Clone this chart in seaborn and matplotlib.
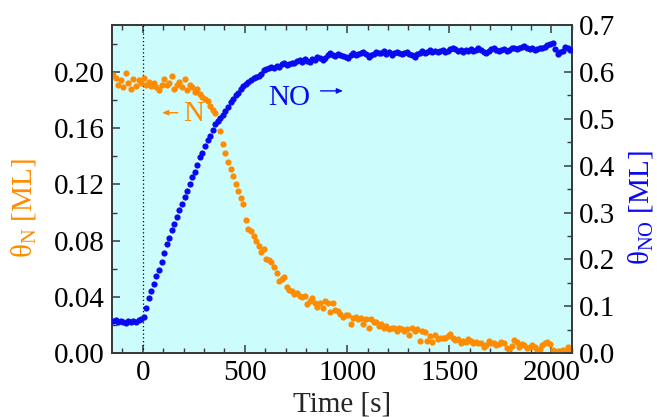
import numpy as np
import pandas as pd
import matplotlib
matplotlib.use("Agg")
import matplotlib.pyplot as plt
from matplotlib.ticker import MultipleLocator, FormatStrFormatter
import seaborn as sns

# ---------------- data ----------------
time_s = [
    -145, -132.5, -120, -107.5, -95, -82.5, -70, -57.5, -45, -32.5,
    -20, -7.5, 5, 17.5, 30, 42.5, 55, 67.5, 80, 92.5,
    105, 117.5, 130, 142.5, 155, 167.5, 180, 192.5, 205, 217.5,
    230, 242.5, 255, 267.5, 280, 292.5, 305, 317.5, 330, 342.5,
    355, 367.5, 380, 392.5, 405, 417.5, 430, 442.5, 455, 467.5,
    480, 492.5, 505, 517.5, 530, 542.5, 555, 567.5, 580, 592.5,
    605, 617.5, 630, 642.5, 655, 667.5, 680, 692.5, 705, 717.5,
    730, 742.5, 755, 767.5, 780, 792.5, 805, 817.5, 830, 842.5,
    855, 867.5, 880, 892.5, 905, 917.5, 930, 942.5, 955, 967.5,
    980, 992.5, 1005, 1017.5, 1030, 1042.5, 1055, 1067.5, 1080, 1092.5,
    1105, 1117.5, 1130, 1142.5, 1155, 1167.5, 1180, 1192.5, 1205, 1217.5,
    1230, 1242.5, 1255, 1267.5, 1280, 1292.5, 1305, 1317.5, 1330, 1342.5,
    1355, 1367.5, 1380, 1392.5, 1405, 1417.5, 1430, 1442.5, 1455, 1467.5,
    1480, 1492.5, 1505, 1517.5, 1530, 1542.5, 1555, 1567.5, 1580, 1592.5,
    1605, 1617.5, 1630, 1642.5, 1655, 1667.5, 1680, 1692.5, 1705, 1717.5,
    1730, 1742.5, 1755, 1767.5, 1780, 1792.5, 1805, 1817.5, 1830, 1842.5,
    1855, 1867.5, 1880, 1892.5, 1905, 1917.5, 1930, 1942.5, 1955, 1967.5,
    1980, 1992.5, 2005, 2017.5, 2030, 2042.5, 2055, 2067.5, 2080, 2092.5,
]

theta_N = [
    0.198, 0.196, 0.191, 0.194, 0.189, 0.199, 0.192, 0.188, 0.195, 0.190,
    0.194, 0.192, 0.196, 0.191, 0.193, 0.190, 0.192, 0.189, 0.187, 0.191,
    0.195, 0.191, 0.192, 0.197, 0.188, 0.191, 0.193, 0.189, 0.195, 0.187,
    0.191, 0.189, 0.186, 0.188, 0.184, 0.182, 0.181, 0.179, 0.176, 0.173,
    0.171, 0.165, 0.158, 0.149, 0.142, 0.136, 0.131, 0.126, 0.120, 0.115,
    0.110, 0.106, 0.095, 0.088, 0.087, 0.083, 0.080, 0.076, 0.072, 0.074,
    0.067, 0.066, 0.065, 0.061, 0.057, 0.051, 0.053, 0.054, 0.047, 0.045,
    0.044, 0.042, 0.043, 0.041, 0.040, 0.041, 0.035, 0.037, 0.039, 0.036,
    0.033, 0.036, 0.032, 0.037, 0.036, 0.029, 0.036, 0.031, 0.030, 0.028,
    0.026, 0.027, 0.027, 0.021, 0.025, 0.026, 0.024, 0.025, 0.021, 0.024,
    0.018, 0.024, 0.022, 0.022, 0.019, 0.021, 0.018, 0.019, 0.017, 0.018,
    0.018, 0.016, 0.018, 0.017, 0.016, 0.017, 0.013, 0.018, 0.016, 0.017,
    0.009, 0.016, 0.015, 0.009, 0.012, 0.008, 0.013, 0.010, 0.011, 0.011,
    0.011, 0.012, 0.014, 0.011, 0.0095, 0.010, 0.0075, 0.009, 0.008, 0.010,
    0.009, 0.0075, 0.008, 0.007, 0.0075, 0.0045, 0.006, 0.009, 0.0075, 0.0073,
    0.006, 0.0065, 0.008, 0.007, 0.004, 0.003, 0.005, 0.0095, 0.008, 0.0045,
    0.0065, 0.006, 0.004, 0.0045, 0.006, 0.0045, 0.0023, 0.003, 0.006, 0.0075,
    0.008, 0.0065, 0.002, 0.001, 0.0015, 0.0015, 0.002, 0.0017, 0.0045, 0.001,
]

theta_NO = [
    0.068, 0.070, 0.066, 0.069, 0.067, 0.065, 0.068, 0.066, 0.069, 0.067,
    0.070, 0.072, 0.078, 0.097, 0.117, 0.132, 0.148, 0.164, 0.178, 0.195,
    0.213, 0.232, 0.246, 0.262, 0.276, 0.290, 0.306, 0.318, 0.334, 0.347,
    0.361, 0.376, 0.386, 0.401, 0.419, 0.428, 0.443, 0.455, 0.463, 0.476,
    0.488, 0.496, 0.502, 0.509, 0.517, 0.526, 0.535, 0.542, 0.550, 0.556,
    0.563, 0.569, 0.575, 0.579, 0.583, 0.586, 0.590, 0.591, 0.596, 0.603,
    0.606, 0.608, 0.610, 0.609, 0.612, 0.611, 0.616, 0.618, 0.614, 0.616,
    0.620, 0.618, 0.623, 0.625, 0.621, 0.627, 0.624, 0.622, 0.628, 0.626,
    0.631, 0.629, 0.625, 0.630, 0.635, 0.641, 0.637, 0.634, 0.638, 0.636,
    0.633, 0.631, 0.629, 0.636, 0.640, 0.637, 0.639, 0.641, 0.643, 0.638,
    0.632, 0.636, 0.639, 0.643, 0.640, 0.641, 0.644, 0.639, 0.642, 0.637,
    0.640, 0.643, 0.641, 0.638, 0.640, 0.642, 0.639, 0.636, 0.632, 0.638,
    0.641, 0.644, 0.640, 0.643, 0.646, 0.643, 0.645, 0.642, 0.644, 0.647,
    0.642, 0.645, 0.649, 0.652, 0.648, 0.644, 0.647, 0.643, 0.646, 0.645,
    0.649, 0.644, 0.647, 0.650, 0.646, 0.643, 0.640, 0.644, 0.648, 0.650,
    0.647, 0.644, 0.646, 0.649, 0.645, 0.647, 0.650, 0.652, 0.648, 0.651,
    0.653, 0.655, 0.650, 0.648, 0.651, 0.646, 0.649, 0.652, 0.650, 0.654,
    0.657, 0.659, 0.661, 0.648, 0.638, 0.642, 0.645, 0.653, 0.650, 0.647,
]

x_ticks = [0, 500, 1000, 1500, 2000]
left_ticks = [0.00, 0.04, 0.08, 0.12, 0.16, 0.20]
right_ticks = [0.0, 0.1, 0.2, 0.3, 0.4, 0.5, 0.6, 0.7]

df = pd.DataFrame({"time": time_s, "N": theta_N, "NO": theta_NO})

# ---------------- style ----------------
sns.set_style("ticks")
plt.rcParams["font.family"] = ["Liberation Serif", "DejaVu Serif"]
plt.rcParams["mathtext.fontset"] = "custom"
plt.rcParams["mathtext.rm"] = "Liberation Serif"
plt.rcParams["mathtext.it"] = "Liberation Serif:italic"

ORANGE = "#ff8c00"
BLUE = "#0a0af0"
BG = "#ccfcfc"
SPINE = "#3a3a3a"
FS = 21

fig = plt.figure(figsize=(6.57, 4.17), dpi=100)
ax = fig.add_axes([0.1705, 0.153, 0.700, 0.787])
ax.set_facecolor(BG)
ax2 = ax.twinx()
ax2.set_facecolor("none")

sns.scatterplot(data=df, x="time", y="N", ax=ax, color=ORANGE, s=20,
                linewidth=0, legend=False, zorder=3)
sns.scatterplot(data=df, x="time", y="NO", ax=ax2, color=BLUE, s=20,
                linewidth=0, legend=False, zorder=3)

ax.axvline(0, color="black", linestyle=(0, (1, 2)), linewidth=0.9, zorder=2)

ax.set_xlim(-150, 2100)
ax.set_ylim(0, 0.7 / 3)
ax2.set_ylim(0, 0.7)

ax.set_xticks(x_ticks)
ax.xaxis.set_minor_locator(MultipleLocator(100))
ax.set_yticks(left_ticks)
ax.yaxis.set_minor_locator(MultipleLocator(0.02))
ax.yaxis.set_major_formatter(FormatStrFormatter("%.2f"))
ax2.set_yticks(right_ticks)
ax2.yaxis.set_minor_locator(MultipleLocator(0.05))
ax2.yaxis.set_major_formatter(FormatStrFormatter("%.1f"))

ax.tick_params(axis="x", which="both", direction="in", top=True, bottom=True,
               labelsize=FS, colors=SPINE, labelcolor="black", pad=5)
ax.tick_params(axis="y", which="both", direction="in", left=True, right=False,
               labelsize=FS, colors=SPINE, labelcolor="black", pad=5)
ax2.tick_params(axis="y", which="both", direction="in", right=True,
                labelsize=FS, colors=SPINE, labelcolor="black", pad=5)
for a in (ax, ax2):
    a.tick_params(which="major", length=6, width=1.1)
    a.tick_params(which="minor", length=3.5, width=1.0)
    for sp in a.spines.values():
        sp.set_color(SPINE)
        sp.set_linewidth(1.3)
        sp.set_visible(True)

ax.set_xlabel("Time [s]", fontsize=FS)
ax.set_ylabel(r"θ$_\mathrm{N}$ [ML]", fontsize=FS, color=ORANGE)
ax2.set_ylabel(r"θ$_\mathrm{NO}$ [ML]", fontsize=FS, color=BLUE, rotation=90)
ax.xaxis.set_label_coords(0.5, -0.118)
ax.yaxis.set_label_coords(-0.162, 0.443)
ax2.yaxis.set_label_coords(1.118, 0.443)

# series labels with small arrows
ax.text(200, 0.170, "N", color=ORANGE, fontsize=FS, ha="left", va="center", zorder=4)
ax.annotate("", xy=(95, 0.171), xytext=(172, 0.171),
            arrowprops=dict(arrowstyle="-|>,head_length=0.35,head_width=0.15",
                            color=ORANGE, lw=1.0, shrinkA=0, shrinkB=0))
ax.text(615, 0.1815, "NO", color=BLUE, fontsize=FS, ha="left", va="center", zorder=4)
ax.annotate("", xy=(980, 0.1865), xytext=(870, 0.1865),
            arrowprops=dict(arrowstyle="-|>,head_length=0.35,head_width=0.15",
                            color=BLUE, lw=1.0, shrinkA=0, shrinkB=0))

fig.savefig("out.png", dpi=100)
